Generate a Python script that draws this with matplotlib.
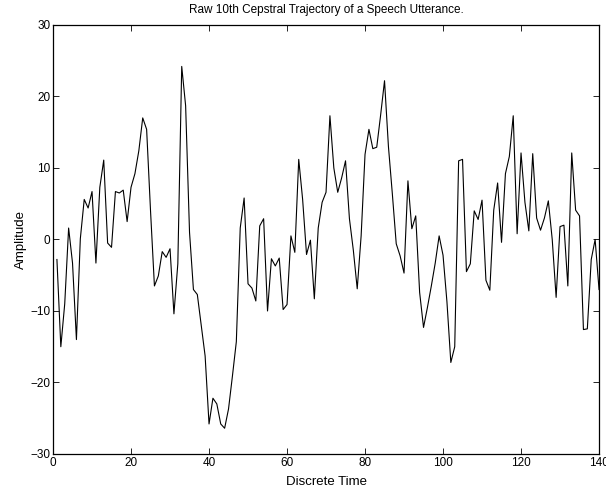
import numpy as np
import matplotlib
matplotlib.use('Agg')
import matplotlib.pyplot as plt

# discrete time index and 10th cepstral coefficient
time = np.arange(1, 141)
amplitude = [
    -2.8, -15.0, -9.0, 1.6, -3.3, -14.0, 0.1, 5.6, 4.4, 6.7,
    -3.3, 7.3, 11.1, -0.5, -1.1, 6.7, 6.5, 6.9, 2.5, 7.3,
    9.2, 12.4, 17.0, 15.4, 4.0, -6.5, -5.1, -1.7, -2.5, -1.3,
    -10.4, -3.4, 24.2, 18.7, 1.0, -7.0, -7.7, -12.0, -16.3, -25.8,
    -22.2, -23.0, -25.8, -26.4, -23.7, -19.1, -14.3, 1.6, 5.8, -6.2,
    -6.8, -8.6, 1.9, 2.9, -10.0, -2.7, -3.7, -2.6, -9.8, -9.1,
    0.5, -1.8, 11.2, 5.6, -2.1, -0.1, -8.3, 1.6, 5.2, 6.6,
    17.3, 10.0, 6.6, 8.6, 11.0, 2.9, -1.5, -6.9, 0.5, 11.9,
    15.4, 12.7, 12.9, 17.4, 22.2, 13.0, 6.4, -0.6, -2.3, -4.7,
    8.2, 1.5, 3.3, -7.4, -12.3, -9.5, -6.5, -3.3, 0.5, -2.2,
    -8.7, -17.2, -15.0, 11.0, 11.2, -4.5, -3.4, 4.0, 2.8, 5.5,
    -5.7, -7.1, 4.1, 7.9, -0.4, 9.2, 11.6, 17.3, 0.8, 12.1,
    5.2, 1.2, 12.0, 3.0, 1.3, 3.0, 5.4, 0.0, -8.1, 1.8,
    2.0, -6.5, 12.1, 4.1, 3.3, -12.6, -12.5, -2.8, 0.0, -7.0,
]
x_ticks = [0, 20, 40, 60, 80, 100, 120, 140]
y_ticks = [-30, -20, -10, 0, 10, 20, 30]

plt.rcParams['font.family'] = ['Liberation Sans', 'DejaVu Sans']

fig = plt.figure(figsize=(6.06, 4.94), dpi=100)
ax = fig.add_axes([0.0875, 0.081, 0.901, 0.8685])

ax.plot(time, amplitude, color='black', linewidth=0.8)

ax.set_xlim(0, 140)
ax.set_ylim(-30, 30)
ax.set_xticks(x_ticks)
ax.set_yticks(y_ticks)
ax.tick_params(direction='in', top=True, right=True, length=4, width=0.6,
               labelsize=8.5, pad=2)
for spine in ax.spines.values():
    spine.set_linewidth(0.9)

ax.set_title('Raw 10th Cepstral Trajectory of a Speech Utterance.', fontsize=8.5, pad=8.5)
ax.set_xlabel('Discrete Time', fontsize=9.5, labelpad=5)
ax.set_ylabel('Amplitude', fontsize=9.5, labelpad=2)

fig.savefig('out.png', dpi=100)
